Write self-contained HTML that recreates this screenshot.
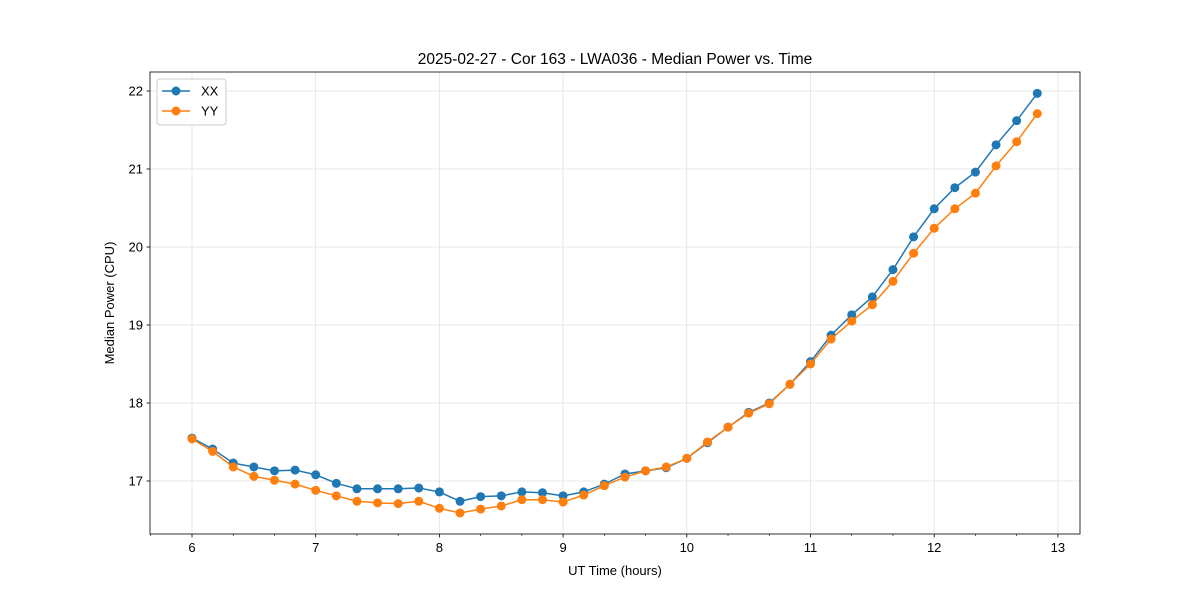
<!DOCTYPE html>
<html><head><meta charset="utf-8"><style>
body{margin:0;background:#fff;}
svg text{font-family:"Liberation Sans","DejaVu Sans",sans-serif;fill:#000;}
</style></head><body>
<svg id="chart" width="1200" height="600" xmlns="http://www.w3.org/2000/svg"></svg>
<script>
const hours = [6,6.1667,6.3333,6.5,6.6667,6.8333,7,7.1667,7.3333,7.5,7.6667,7.8333,8,8.1667,8.3333,8.5,8.6667,8.8333,9,9.1667,9.3333,9.5,9.6667,9.8333,10,10.1667,10.3333,10.5,10.6667,10.8333,11,11.1667,11.3333,11.5,11.6667,11.8333,12,12.1667,12.3333,12.5,12.6667,12.8333];
const xxValues = [17.55,17.41,17.23,17.18,17.13,17.14,17.08,16.97,16.90,16.90,16.90,16.91,16.86,16.74,16.80,16.81,16.86,16.85,16.81,16.86,16.96,17.09,17.13,17.17,17.29,17.49,17.69,17.88,18.00,18.24,18.53,18.87,19.13,19.36,19.71,20.13,20.49,20.76,20.96,21.31,21.62,21.97];
const yyValues = [17.54,17.38,17.18,17.06,17.01,16.96,16.88,16.81,16.74,16.72,16.71,16.74,16.65,16.59,16.64,16.68,16.76,16.76,16.73,16.82,16.94,17.05,17.13,17.18,17.29,17.50,17.69,17.87,17.99,18.24,18.50,18.82,19.05,19.26,19.56,19.92,20.24,20.49,20.69,21.04,21.35,21.71];
const xTicks = [6,7,8,9,10,11,12,13];
const yTicks = [17,18,19,20,21,22];

const svg = document.getElementById('chart');
const NS = 'http://www.w3.org/2000/svg';
const L=150,R=1080,T=72,B=534;
const xs = v => 192 + (v-6)*123.7;
const ys = v => 481 - (v-17)*78;
function mk(tag, attrs, parent){const e=document.createElementNS(NS,tag);for(const k in attrs)e.setAttribute(k,attrs[k]);(parent||svg).appendChild(e);return e;}

// grid
xTicks.forEach(t=>{const g=mk('line',{x1:xs(t),x2:xs(t),y1:T,y2:B,stroke:'#b0b0b0','stroke-opacity':0.35,'stroke-width':0.8});

});
yTicks.forEach(t=>{const g=mk('line',{x1:L,x2:R,y1:ys(t),y2:ys(t),stroke:'#b0b0b0','stroke-opacity':0.35,'stroke-width':0.8});

});

// series
function series(vals,color,name){
  const pts=hours.map((h,i)=>xs(h)+','+ys(vals[i])).join(' ');
  const pl=mk('polyline',{points:pts,fill:'none',stroke:color,'stroke-width':1.5});
  
  
  hours.forEach((h,i)=>{const c=mk('circle',{cx:xs(h),cy:ys(vals[i]),r:4.5,fill:color});
  
  });
}
series(xxValues,'#1f77b4','xx');
series(yyValues,'#ff7f0e','yy');

// axes frame
const fr=mk('rect',{x:L,y:T,width:R-L,height:B-T,fill:'none',stroke:'#000','stroke-width':0.8});



// x ticks
xTicks.forEach(t=>{mk('line',{x1:xs(t),x2:xs(t),y1:B,y2:B+3.5,stroke:'#000','stroke-width':0.8});
const tx=mk('text',{x:xs(t),y:B+18,'text-anchor':'middle','font-size':13});tx.textContent=t;

});
for(let m=5.6667;m<13.1;m+=1/3){ if(Math.abs(m-Math.round(m))>0.05 && xs(m)>L && xs(m)<R) mk('line',{x1:xs(m),x2:xs(m),y1:B,y2:B+2,stroke:'#000','stroke-width':0.6}); }
// y ticks
yTicks.forEach(t=>{mk('line',{x1:L-3.5,x2:L,y1:ys(t),y2:ys(t),stroke:'#000','stroke-width':0.8});
const tx=mk('text',{x:L-7,y:ys(t)+4.5,'text-anchor':'end','font-size':13});tx.textContent=t;

});

// titles
const ti=mk('text',{x:615,y:64,'text-anchor':'middle','font-size':15.5});ti.textContent='2025-02-27 - Cor 163 - LWA036 - Median Power vs. Time';


const xt=mk('text',{x:615,y:575,'text-anchor':'middle','font-size':13});xt.textContent='UT Time (hours)';


const yt=mk('text',{x:114,y:303,'text-anchor':'middle','font-size':13,transform:'rotate(-90 114 303)'});yt.textContent='Median Power (CPU)';



// legend
const lg=mk('g',{});


mk('rect',{x:157,y:79,width:69,height:46,rx:3,fill:'#fff',stroke:'#ccc','stroke-width':1},lg);
[['XX','#1f77b4',91],['YY','#ff7f0e',111]].forEach(([n,c,y])=>{
  const e=mk('g',{},lg);
  
  
  mk('line',{x1:162,x2:190,y1:y,y2:y,stroke:c,'stroke-width':1.5},e);
  mk('circle',{cx:176,cy:y,r:4.5,fill:c},e);
  const t=mk('text',{x:201,y:y+4.5,'font-size':13},e);t.textContent=n;
});
</script>
</body></html>
